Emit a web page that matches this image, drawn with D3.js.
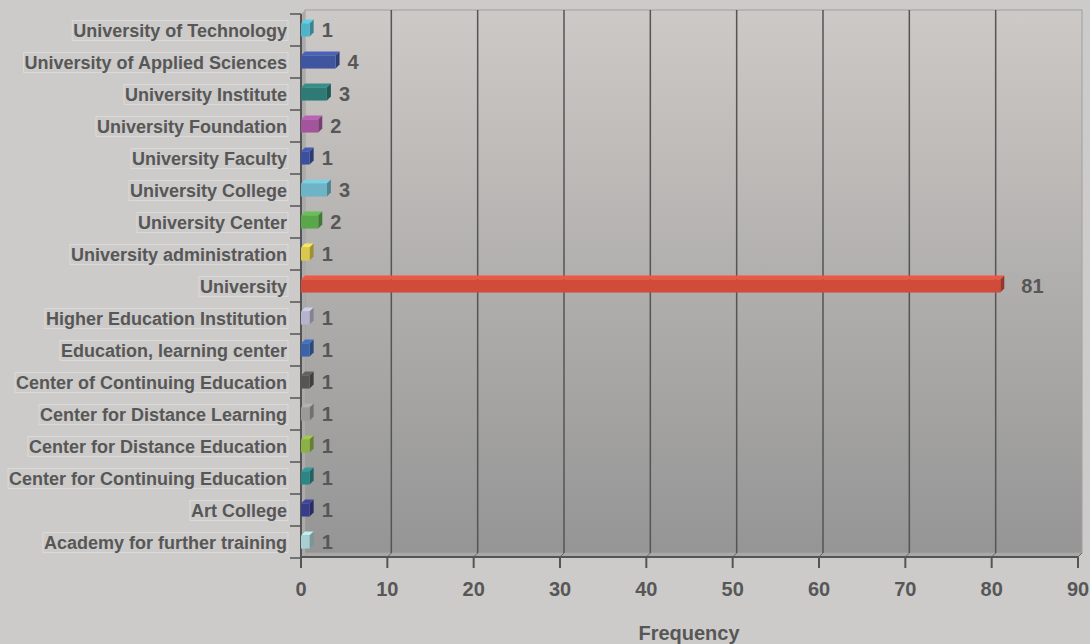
<!DOCTYPE html>
<html><head><meta charset="utf-8">
<script src="https://cdn.jsdelivr.net/npm/d3@7"></script>
<style>html,body{margin:0;padding:0;background:#cccbca;}svg{display:block;}</style>
</head><body>
<svg id="chart" width="1090" height="644"></svg>
<script>
const categories = ["University of Technology","University of Applied Sciences","University Institute","University Foundation","University Faculty","University College","University Center","University administration","University","Higher Education Institution","Education, learning center","Center of Continuing Education","Center for Distance Learning","Center for Distance Education","Center for Continuing Education","Art College","Academy for further training"];
const values = [1,4,3,2,1,3,2,1,81,1,1,1,1,1,1,1,1];
const colors = ["#4fb4ca","#3f55a0","#2e7b76","#a2559c","#3c4f9e","#6db5c6","#5aa64a","#d9c84c","#d04b3a","#b4b4cc","#3a63a8","#555555","#9a9a9a","#8cb043","#2d8686","#383d88","#a8cfd1"];
const xTicks = [0,10,20,30,40,50,60,70,80,90];
const xTitle = "Frequency";

(function(){
const svg = d3.select("#chart");
const D = 4;
const FONT = "Liberation Sans, Arial, sans-serif";
const TXT = "#575757";
const x = d3.scaleLinear().domain([0,90]).range([301,1078]);
const y = d3.scaleBand().domain(categories).range([14,558]).paddingInner(0.59).paddingOuter(0.295);
const pTop = 14, pBottom = 557;

const defs = svg.append("defs");
const g1 = defs.append("linearGradient").attr("id","wall").attr("x1",0).attr("y1",0).attr("x2",0).attr("y2",1);
g1.append("stop").attr("offset","0%").attr("stop-color","#cdc9c6");
g1.append("stop").attr("offset","100%").attr("stop-color","#959595");

svg.append("rect").attr("x",x(0)+D).attr("y",pTop-D).attr("width",x(90)-x(0)).attr("height",pBottom-pTop)
  .attr("fill","url(#wall)").attr("stroke","#a0a0a0").attr("stroke-width",1);
svg.append("path").attr("d",`M${x(0)},${pTop}L${x(0)+D},${pTop-D}L${x(0)+D},${pBottom-D}L${x(0)},${pBottom}Z`).attr("fill","#ababab");
svg.append("path").attr("d",`M${x(0)},${pBottom}L${x(0)+D},${pBottom-D}L${x(90)+D},${pBottom-D}L${x(90)},${pBottom}Z`).attr("fill","#a8a8a8");

svg.append("g").selectAll("line").data(xTicks.filter(t=>t>0 && t<90)).join("line")
  .attr("x1",d=>x(d)+D).attr("x2",d=>x(d)+D).attr("y1",pTop-D).attr("y2",pBottom-D)
  .attr("stroke","#555").attr("stroke-width",1.5);
svg.append("g").selectAll("line").data(xTicks.filter(t=>t>0)).join("line")
  .attr("x1",d=>x(d)).attr("x2",d=>x(d)+D).attr("y1",pBottom).attr("y2",pBottom-D)
  .attr("stroke","#666").attr("stroke-width",1);

svg.append("line").attr("x1",x(0)).attr("x2",x(0)).attr("y1",pTop).attr("y2",pBottom+11).attr("stroke","#555").attr("stroke-width",2);
svg.append("line").attr("x1",x(0)).attr("x2",x(90)).attr("y1",pBottom).attr("y2",pBottom).attr("stroke","#555").attr("stroke-width",2);
svg.append("g").selectAll("line").data(xTicks).join("line")
  .attr("x1",d=>x(d)).attr("x2",d=>x(d)).attr("y1",pBottom).attr("y2",pBottom+11).attr("stroke","#555").attr("stroke-width",2);
const step = y.step();
svg.append("g").selectAll("line").data(d3.range(categories.length+1)).join("line")
  .attr("x1",290).attr("x2",x(0)).attr("y1",i=>pTop+i*step).attr("y2",i=>pTop+i*step).attr("stroke","#555").attr("stroke-width",1.5);

svg.append("g").selectAll("text").data(xTicks).join("text")
  .attr("x",d=>x(d)).attr("y",596).attr("text-anchor","middle")
  .attr("font-family",FONT).attr("font-weight","bold").attr("font-size",20).attr("fill",TXT)
  .text(d=>d);
svg.append("text").attr("x",689).attr("y",640).attr("text-anchor","middle")
  .attr("font-family",FONT).attr("font-weight","bold").attr("font-size",20).attr("fill",TXT)
  .text(xTitle);

const catG = svg.append("g");
categories.forEach((c,i)=>{
  const cy = y(c)+y.bandwidth()/2;
  const t = catG.append("text").attr("x",287).attr("y",cy+6.5).attr("text-anchor","end")
    .attr("font-family",FONT).attr("font-weight","bold").attr("font-size",18).attr("fill",TXT)
    .text(c);
  const bb = t.node().getBBox();
  catG.insert("rect","text").attr("x",bb.x-1).attr("y",bb.y).attr("width",bb.width+2).attr("height",bb.height)
    .attr("fill","none").attr("stroke","rgba(255,255,255,0.3)").attr("stroke-width",1);
});

const bars = svg.append("g");
categories.forEach((c,i)=>{
  const v = values[i], col = d3.color(colors[i]);
  const x0 = x(0), x1 = x(v), yy = y(c), h = y.bandwidth();
  bars.append("path").attr("d",`M${x0},${yy}L${x0+D},${yy-D}L${x1+D},${yy-D}L${x1},${yy}Z`).attr("fill",col.brighter(0.4));
  bars.append("path").attr("d",`M${x1},${yy}L${x1+D},${yy-D}L${x1+D},${yy+h-D}L${x1},${yy+h}Z`).attr("fill",col.darker(0.9));
  bars.append("rect").attr("x",x0).attr("y",yy).attr("width",x1-x0).attr("height",h).attr("fill",col);
  bars.append("text").attr("x",x1+D+(v>50?17:8)).attr("y",yy+h/2+7)
    .attr("font-family",FONT).attr("font-weight","bold").attr("font-size",20).attr("fill",TXT)
    .text(v);
});
})();
</script>
</body></html>
